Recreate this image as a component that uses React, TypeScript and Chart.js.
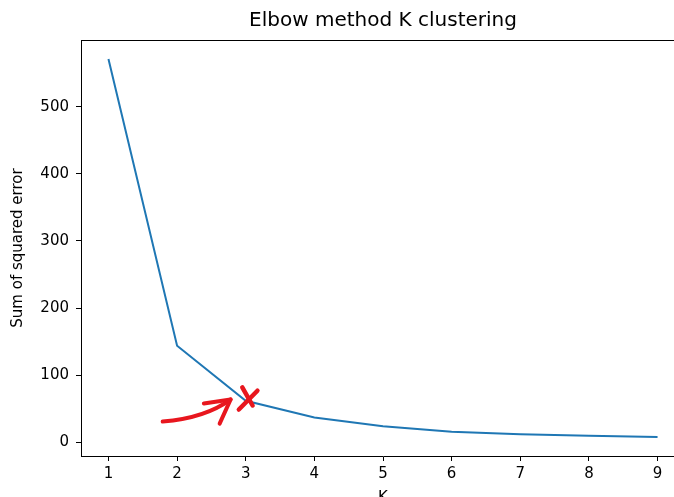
import React, { useEffect, useRef } from "react";
import { Chart, registerables } from "chart.js";

Chart.register(...registerables);

// ---- data ----
const kValues = [1, 2, 3, 4, 5, 6, 7, 8, 9];
const sseValues = [571, 144, 62, 37, 24, 16, 12, 10, 8];
const xTickValues = [1, 2, 3, 4, 5, 6, 7, 8, 9];
const yTickValues = [0, 100, 200, 300, 400, 500];
const titleText = "Elbow method K clustering";
const xLabel = "K";
const yLabel = "Sum of squared error";

// hand-drawn red annotation, in data units (K, SSE)
const arrowShaft = [
  [1.79, 31],
  [2.41, 36],
  [2.78, 64],
];
const arrowHead = [
  [2.39, 58],
  [2.78, 64],
  [2.62, 28],
];
const crossStrokeA = [
  [3.17, 77],
  [2.9, 49],
];
const crossStrokeB = [
  [2.95, 82],
  [3.1, 55],
];

const FONT = "'DejaVu Sans', sans-serif";
const CANVAS_W = 720;
const CANVAS_H = 520;
const RIGHT_PAD = CANVAS_W - 685;

const framePlugin = {
  id: "frame",
  afterDatasetsDraw(chart: any) {
    const { ctx, chartArea, scales } = chart;
    const xs = scales.x;
    const ys = scales.y;
    const px = (p: number[]) => [xs.getPixelForValue(p[0]), ys.getPixelForValue(p[1])];
    ctx.save();
    ctx.strokeStyle = "#e8161e";
    ctx.lineWidth = 4;
    ctx.lineCap = "round";
    ctx.lineJoin = "round";
    const s0 = px(arrowShaft[0]);
    const s1 = px(arrowShaft[1]);
    const s2 = px(arrowShaft[2]);
    ctx.beginPath();
    ctx.moveTo(s0[0], s0[1]);
    ctx.quadraticCurveTo(s1[0], s1[1], s2[0], s2[1]);
    ctx.stroke();
    ctx.beginPath();
    arrowHead.forEach((p, i) => {
      const q = px(p);
      if (i === 0) ctx.moveTo(q[0], q[1]);
      else ctx.lineTo(q[0], q[1]);
    });
    ctx.stroke();
    ctx.lineWidth = 4.5;
    [crossStrokeA, crossStrokeB].forEach((stroke) => {
      ctx.beginPath();
      stroke.forEach((p, i) => {
        const q = px(p);
        if (i === 0) ctx.moveTo(q[0], q[1]);
        else ctx.lineTo(q[0], q[1]);
      });
      ctx.stroke();
    });
    ctx.restore();

    // top spine
    ctx.save();
    ctx.strokeStyle = "#000";
    ctx.lineWidth = 1;
    ctx.beginPath();
    ctx.moveTo(chartArea.left, chartArea.top + 0.5);
    ctx.lineTo(chartArea.right, chartArea.top + 0.5);
    ctx.stroke();
    ctx.restore();
  },
};

export default function App() {
  const canvasRef = useRef<HTMLCanvasElement | null>(null);

  useEffect(() => {
    if (!canvasRef.current) return;
    const chart = new Chart(canvasRef.current, {
      type: "line",
      data: {
        datasets: [
          {
            data: kValues.map((k, i) => ({ x: k, y: sseValues[i] })),
            borderColor: "#1f77b4",
            borderWidth: 2,
            pointRadius: 0,
            tension: 0,
            fill: false,
          },
        ],
      },
      options: {
        animation: false,
        responsive: false,
        devicePixelRatio: 1,
        layout: { padding: { left: 0, right: RIGHT_PAD, top: 0, bottom: 0 } },
        plugins: {
          legend: { display: false },
          tooltip: { enabled: false },
          title: {
            display: true,
            text: titleText,
            fullSize: false,
            color: "#000",
            font: { family: FONT, size: 20, weight: "normal" },
            padding: { top: 9, bottom: 7 },
          },
        },
        scales: {
          x: {
            type: "linear",
            min: 0.6,
            max: 9.4,
            afterFit: (scale: any) => {
              scale.height = CANVAS_H - 456;
            },
            afterBuildTicks: (scale: any) => {
              scale.ticks = xTickValues.map((v) => ({ value: v }));
            },
            ticks: {
              color: "#000",
              font: { family: FONT, size: 15 },
              padding: 4,
              maxRotation: 0,
              autoSkip: false,
              callback: (v: any) => String(v),
            },
            grid: {
              display: true,
              drawOnChartArea: false,
              drawTicks: true,
              tickLength: 5,
              tickColor: "#000",
              tickWidth: 1,
            },
            border: { display: true, color: "#000", width: 1 },
            title: {
              display: true,
              text: xLabel,
              color: "#000",
              font: { family: FONT, size: 15 },
              padding: { top: 0, bottom: 13 },
            },
          },
          y: {
            type: "linear",
            min: -20.2,
            max: 599.2,
            afterFit: (scale: any) => {
              scale.width = 81;
            },
            afterBuildTicks: (scale: any) => {
              scale.ticks = yTickValues.map((v) => ({ value: v }));
            },
            ticks: {
              color: "#000",
              font: { family: FONT, size: 15 },
              padding: 7,
              autoSkip: false,
              callback: (v: any) => String(v),
            },
            grid: {
              display: true,
              drawOnChartArea: false,
              drawTicks: true,
              tickLength: 5,
              tickColor: "#000",
              tickWidth: 1,
            },
            border: { display: true, color: "#000", width: 1 },
            title: {
              display: true,
              text: yLabel,
              color: "#000",
              font: { family: FONT, size: 15 },
              padding: { top: 9.5, bottom: 0 },
            },
          },
        },
      },
      plugins: [framePlugin],
    } as any);
    return () => chart.destroy();
  }, []);

  return (
    <div
      style={{
        position: "fixed",
        left: 0,
        top: 0,
        width: 674,
        height: 497,
        overflow: "hidden",
        background: "#fff",
      }}
    >
      <canvas
        ref={canvasRef}
        width={CANVAS_W}
        height={CANVAS_H}
        style={{ width: CANVAS_W, height: CANVAS_H, display: "block" }}
      />
    </div>
  );
}
